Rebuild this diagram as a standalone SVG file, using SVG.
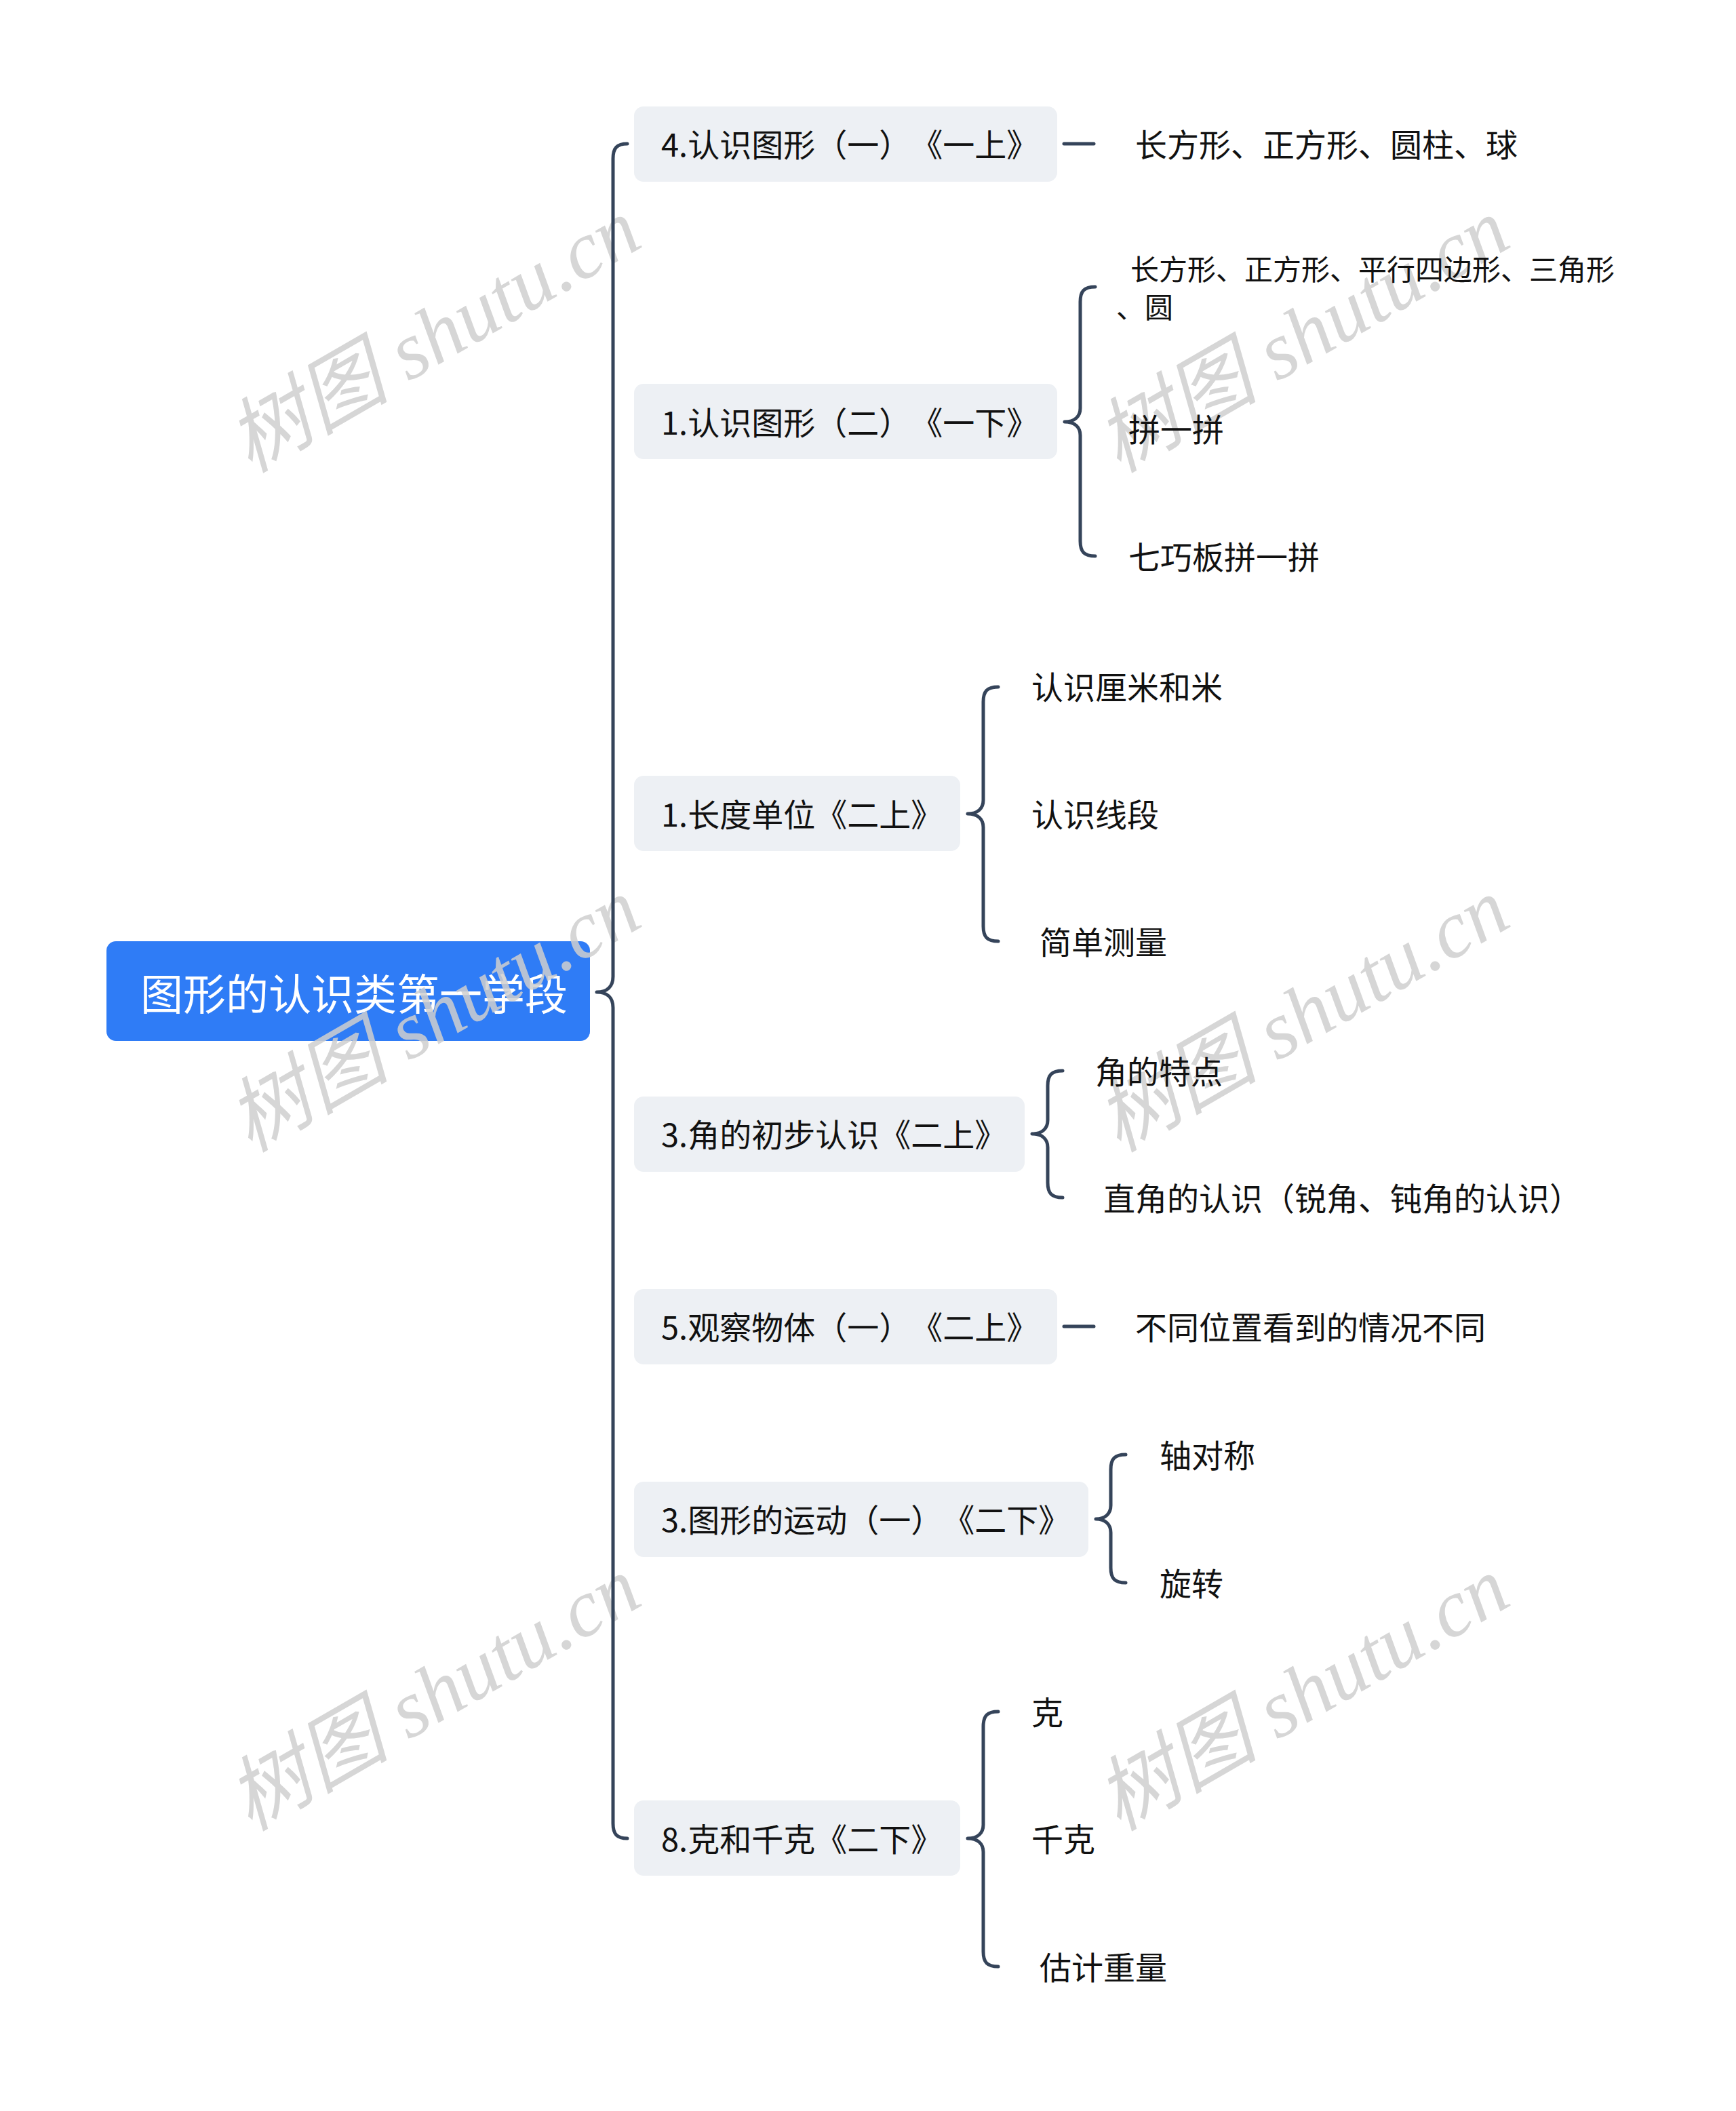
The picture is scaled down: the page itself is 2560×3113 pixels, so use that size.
<svg xmlns="http://www.w3.org/2000/svg" width="2560" height="3113" viewBox="0 0 2560 3113">
<style>
.t{font-family:"Noto Sans CJK SC","Noto Sans",sans-serif;fill:#111;dominant-baseline:central;text-spacing-trim:space-all}
.l1{font-size:47px}
.lf{font-size:47px}
.sm{font-size:42px}
.rt{font-size:63px;fill:#fff}
.box{fill:#edf0f4}
.cn{fill:none;stroke:#35445a;stroke-width:5;stroke-linecap:round;stroke-linejoin:round}
.wm{font-family:"Liberation Serif","Noto Sans CJK SC",serif;font-style:italic;font-size:120px;fill:#cfcfcf;opacity:0.85}
</style>
<rect width="2560" height="3113" fill="#fff"/>
<g id="root">
<rect x="157" y="1388" width="713" height="147" rx="14" fill="#2f7cf6"/>
<text class="t rt" x="207" y="1461">图形的认识类第一学段</text>
</g>
<g id="boxes">
<rect class="box" x="935" y="157" width="624" height="111" rx="14"/>
<rect class="box" x="935" y="566" width="624" height="111" rx="14"/>
<rect class="box" x="935" y="1144" width="481" height="111" rx="14"/>
<rect class="box" x="935" y="1617" width="576" height="111" rx="14"/>
<rect class="box" x="935" y="1901" width="624" height="111" rx="14"/>
<rect class="box" x="935" y="2185" width="670" height="111" rx="14"/>
<rect class="box" x="935" y="2655" width="481" height="111" rx="14"/>
</g>
<g id="watermarks">
<text class="wm" text-anchor="middle" transform="translate(660 530) rotate(-30)">树图 shutu.cn</text>
<text class="wm" text-anchor="middle" transform="translate(1941 530) rotate(-30)">树图 shutu.cn</text>
<text class="wm" text-anchor="middle" transform="translate(660 1532) rotate(-30)">树图 shutu.cn</text>
<text class="wm" text-anchor="middle" transform="translate(1941 1532) rotate(-30)">树图 shutu.cn</text>
<text class="wm" text-anchor="middle" transform="translate(660 2533) rotate(-30)">树图 shutu.cn</text>
<text class="wm" text-anchor="middle" transform="translate(1941 2533) rotate(-30)">树图 shutu.cn</text>
</g>
<g id="connectors">
<path class="cn" d="M925 212 C910 212 904 218 904 234 L904 1440 C904 1455 895 1463 880 1463 C895 1463 904 1471 904 1486 L904 2689 C904 2705 910 2711 925 2711"/>
<path class="cn" d="M1569 212 L1613 212"/>
<path class="cn" d="M1615 423 C1599 423 1593 429 1593 445 L1593 602 C1593 614 1585 622 1570 622 C1585 622 1593 630 1593 642 L1593 798 C1593 814 1599 820 1615 820"/>
<path class="cn" d="M1472 1013 C1456 1013 1450 1019 1450 1035 L1450 1180 C1450 1192 1442 1200 1427 1200 C1442 1200 1450 1208 1450 1220 L1450 1366 C1450 1382 1456 1388 1472 1388"/>
<path class="cn" d="M1567 1579 C1551 1579 1545 1585 1545 1601 L1545 1652 C1545 1664 1537 1672 1522 1672 C1537 1672 1545 1680 1545 1692 L1545 1744 C1545 1760 1551 1766 1567 1766"/>
<path class="cn" d="M1569 1956 L1613 1956"/>
<path class="cn" d="M1660 2145 C1644 2145 1638 2151 1638 2167 L1638 2220 C1638 2232 1630 2240 1616 2240 C1630 2240 1638 2248 1638 2260 L1638 2312 C1638 2328 1644 2334 1660 2334"/>
<path class="cn" d="M1472 2524 C1456 2524 1450 2530 1450 2546 L1450 2691 C1450 2703 1442 2711 1427 2711 C1442 2711 1450 2719 1450 2731 L1450 2878 C1450 2894 1456 2900 1472 2900"/>
</g>
<g id="n1"><text class="t l1" x="975" y="210">4.认识图形（一）《一上》</text></g>
<g id="n1a"><text class="t lf" x="1674" y="210">长方形、正方形、圆柱、球</text></g>
<g id="n2"><text class="t l1" x="975" y="620">1.认识图形（二）《一下》</text></g>
<g id="n2a">
<text class="t sm" x="1667" y="394">长方形、正方形、平行四边形、三角形</text>
<text class="t sm" x="1646" y="450">、圆</text>
</g>
<g id="n2b"><text class="t lf" x="1664" y="630">拼一拼</text></g>
<g id="n2c"><text class="t lf" x="1664" y="818">七巧板拼一拼</text></g>
<g id="n3"><text class="t l1" x="975" y="1198">1.长度单位《二上》</text></g>
<g id="n3a"><text class="t lf" x="1521" y="1010">认识厘米和米</text></g>
<g id="n3b"><text class="t lf" x="1521" y="1198">认识线段</text></g>
<g id="n3c"><text class="t lf" x="1533" y="1386">简单测量</text></g>
<g id="n4"><text class="t l1" x="975" y="1670">3.角的初步认识《二上》</text></g>
<g id="n4a"><text class="t lf" x="1615" y="1577">角的特点</text></g>
<g id="n4b"><text class="t lf" x="1627" y="1764">直角的认识（锐角、钝角的认识）</text></g>
<g id="n5"><text class="t l1" x="975" y="1954">5.观察物体（一）《二上》</text></g>
<g id="n5a"><text class="t lf" x="1674" y="1954">不同位置看到的情况不同</text></g>
<g id="n6"><text class="t l1" x="975" y="2238">3.图形的运动（一）《二下》</text></g>
<g id="n6a"><text class="t lf" x="1710" y="2143">轴对称</text></g>
<g id="n6b"><text class="t lf" x="1710" y="2332">旋转</text></g>
<g id="n7"><text class="t l1" x="975" y="2709">8.克和千克《二下》</text></g>
<g id="n7a"><text class="t lf" x="1521" y="2522">克</text></g>
<g id="n7b"><text class="t lf" x="1521" y="2709">千克</text></g>
<g id="n7c"><text class="t lf" x="1533" y="2898">估计重量</text></g>
</svg>
